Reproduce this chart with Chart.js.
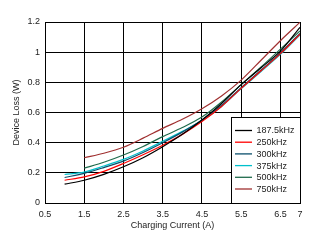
<!DOCTYPE html>
<html>
<head>
<meta charset="utf-8">
<script src="https://cdn.jsdelivr.net/npm/chart.js@4/dist/chart.umd.min.js"></script>
<style>
  html, body { margin: 0; padding: 0; background: #fff; }
  #wrap { width: 321px; height: 243px; }
</style>
</head>
<body>
<div id="wrap"><canvas id="loss-chart" width="321" height="243"></canvas></div>
<script>
// charging current (A)
const correntes = [1, 1.5, 2, 2.5, 3, 3.5, 4, 4.5, 5, 5.5, 6, 6.5, 7];
const xTicks = [0.5, 1.5, 2.5, 3.5, 4.5, 5.5, 6.5, 7];
const yTicks = [0, 0.2, 0.4, 0.6, 0.8, 1, 1.2];

// device loss (W) per switching frequency
const loss187 = [0.125, 0.151, 0.19, 0.24, 0.3, 0.373, 0.455, 0.55, 0.66, 0.785, 0.895, 1.007, 1.165];
const loss250 = [0.151, 0.173, 0.21, 0.262, 0.32, 0.383, 0.455, 0.54, 0.64, 0.76, 0.875, 0.99, 1.12];
const loss300 = [0.169, 0.196, 0.235, 0.278, 0.335, 0.4, 0.47, 0.55, 0.648, 0.765, 0.88, 0.995, 1.125];
const loss375 = [0.189, 0.205, 0.245, 0.289, 0.345, 0.409, 0.475, 0.545, 0.64, 0.758, 0.87, 0.985, 1.115];
const loss500 = [null, 0.231, 0.27, 0.318, 0.375, 0.44, 0.5, 0.57, 0.67, 0.785, 0.9, 1.02, 1.14];
const loss750 = [null, 0.3, 0.33, 0.37, 0.43, 0.495, 0.555, 0.625, 0.71, 0.815, 0.945, 1.076, 1.198];

const nomes = ["187.5kHz", "250kHz", "300kHz", "375kHz", "500kHz", "750kHz"];
const cores = ["#000000", "#ff0000", "#0b4f6c", "#00c0cc", "#1f6b4c", "#a03030"];
const series = [loss187, loss250, loss300, loss375, loss500, loss750];

const fonte = "'Liberation Sans', Arial, sans-serif";

// =======================
// legend box inside plot
// =======================
const legendaBox = {
  id: "legendaBox",
  afterDatasetsDraw(chart) {
    const ctx = chart.ctx;
    const area = chart.chartArea;
    const x0 = 231, y0 = 117;
    ctx.save();
    ctx.fillStyle = "#fff";
    ctx.fillRect(x0, y0, area.right - x0, area.bottom - y0);
    ctx.strokeStyle = "#000";
    ctx.lineWidth = 1;
    ctx.strokeRect(x0 + 0.5, y0 + 0.5, area.right - x0, area.bottom - y0);
    ctx.font = "9px " + fonte;
    ctx.textBaseline = "middle";
    nomes.forEach((nome, i) => {
      const y = 130.5 + i * 11.7;
      ctx.strokeStyle = cores[i];
      ctx.lineWidth = 1.3;
      ctx.beginPath();
      ctx.moveTo(235, y);
      ctx.lineTo(252, y);
      ctx.stroke();
      ctx.fillStyle = "#222";
      ctx.fillText(nome, 256.5, y + 0.5);
    });
    ctx.restore();
  },
};

const ctx = document.getElementById("loss-chart").getContext("2d");
new Chart(ctx, {
  type: "line",
  data: {
    datasets: series.map((valores, i) => ({
      label: nomes[i],
      data: correntes.map((c, j) => ({ x: c, y: valores[j] })),
      borderColor: cores[i],
      borderWidth: 1.2,
      pointRadius: 0,
      tension: 0.3,
      fill: false,
    })),
  },
  options: {
    responsive: false,
    animation: false,
    layout: { padding: { left: 11, right: 21, top: 22, bottom: 12 } },
    plugins: { legend: { display: false }, tooltip: { enabled: false } },
    scales: {
      x: {
        type: "linear",
        min: 0.5,
        max: 7,
        afterBuildTicks: (axis) => {
          axis.ticks = xTicks.map((v) => ({ value: v }));
        },
        afterFit: (axis) => {
          axis.height = 28;
        },
        grid: { color: "#000", lineWidth: 1, drawTicks: false },
        border: { color: "#000", width: 1 },
        ticks: {
          color: "#222",
          font: { family: fonte, size: 9 },
          padding: 6,
          maxRotation: 0,
          autoSkip: false,
          callback: (v) => String(v),
        },
        title: {
          display: true,
          text: "Charging Current (A)",
          color: "#222",
          font: { family: fonte, size: 9 },
          padding: { top: 2, bottom: 0 },
        },
      },
      y: {
        min: 0,
        max: 1.2,
        afterBuildTicks: (axis) => {
          axis.ticks = yTicks.map((v) => ({ value: v }));
        },
        afterFit: (axis) => {
          axis.width = 34;
        },
        grid: { color: "#000", lineWidth: 1, drawTicks: false },
        border: { color: "#000", width: 1 },
        ticks: {
          color: "#222",
          font: { family: fonte, size: 9 },
          padding: 5,
          callback: (v) => String(v),
        },
        title: {
          display: true,
          text: "Device Loss (W)",
          color: "#222",
          font: { family: fonte, size: 9 },
          padding: { top: 0, bottom: 4 },
        },
      },
    },
  },
  plugins: [legendaBox],
});
</script>
</body>
</html>
